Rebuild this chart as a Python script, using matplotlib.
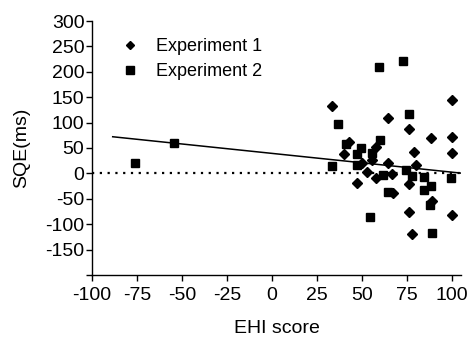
import matplotlib
matplotlib.use("Agg")
import matplotlib.pyplot as plt
import numpy as np

plt.rcParams['font.family'] = ['Liberation Sans', 'DejaVu Sans']
plt.rcParams['axes.unicode_minus'] = False

# Experiment 1 (diamonds)
exp1_x = [33.2, 64.4, 99.8, 76.3, 88.2, 99.8, 42.8, 57.8, 39.8, 78.7, 99.8, 55.4, 49.8,
          64.6, 79.8, 53.0, 66.7, 57.6, 47.4, 76.3, 67.4, 88.7, 76.3, 99.8, 77.8]
exp1_y = [132.5, 110, 143.7, 86.6, 69.5, 72.2, 61.6, 52.6, 38, 42, 40.7, 25.6, 21,
          21, 15.7, 2, -2, -9.3, -19.7, -21.7, -39.4, -54.5, -76.8, -82, -118.7]

# Experiment 2 (squares)
exp2_x = [59.6, 73.0, 36.7, 76.3, 40.9, 49.6, 59.8, 47.1, 55.4, 33.2, 47.2, 74.6, 61.8,
          77.6, 84.6, 99.6, 88.2, 84.4, 64.3, 87.8, 54.3, 88.7, -54.3, -76.3]
exp2_y = [210, 222, 96.5, 116.7, 57.7, 49.8, 65, 38, 40, 13.8, 15.7, 6.5, -2.6,
          -5.9, -7.3, -9.3, -24.2, -33.5, -37.4, -63, -85.2, -117.5, 60.4, 19.7]

# Regression line endpoints (x) and coefficients
fit_x = [-88.5, 105]
fit_slope = -0.37
fit_intercept = 39.4

x_ticks = [-100, -75, -50, -25, 0, 25, 50, 75, 100]
y_ticks = [-200, -150, -100, -50, 0, 50, 100, 150, 200, 250, 300]
y_ticklabels = ['', '-150', '-100', '-50', '0', '50', '100', '150', '200', '250', '300']

fig = plt.figure(figsize=(4.71, 3.37), dpi=100)
ax = fig.add_axes([92/471, 1-275/337, (461-92)/471, (275-21)/337])

ax.axhline(0, color='black', lw=1.6, linestyle=(0, (1, 2.5)), zorder=1)
fx = np.array(fit_x)
ax.plot(fx, fit_intercept + fit_slope*fx, color='black', lw=1.1, zorder=2)

ax.plot(exp1_x, exp1_y, linestyle='none', marker='D', ms=4.8, color='black',
        label='Experiment 1', zorder=3)
ax.plot(exp2_x, exp2_y, linestyle='none', marker='s', ms=6.4, color='black',
        label='Experiment 2', zorder=3)

ax.set_xlim(-100, 105)
ax.set_ylim(-200, 300)
ax.set_xticks(x_ticks)
ax.set_yticks(y_ticks)
ax.set_yticklabels(y_ticklabels)
ax.tick_params(direction='out', length=4, width=1, labelsize=14)
ax.tick_params(axis='x', pad=5)
ax.tick_params(axis='y', pad=1.5)
for s in ['top', 'right']:
    ax.spines[s].set_visible(False)
for s in ['left', 'bottom']:
    ax.spines[s].set_linewidth(1)

ax.set_xlabel('EHI score', fontsize=14, labelpad=11)
ax.set_ylabel('SQE(ms)', fontsize=14, labelpad=11)

leg = ax.legend(loc='upper left', bbox_to_anchor=(0.05, 0.975), frameon=False,
                fontsize=13, handlelength=1.0, handletextpad=0.9, labelspacing=0.45,
                markerscale=0.85, borderaxespad=0.2)

fig.savefig('out.png', dpi=100)
